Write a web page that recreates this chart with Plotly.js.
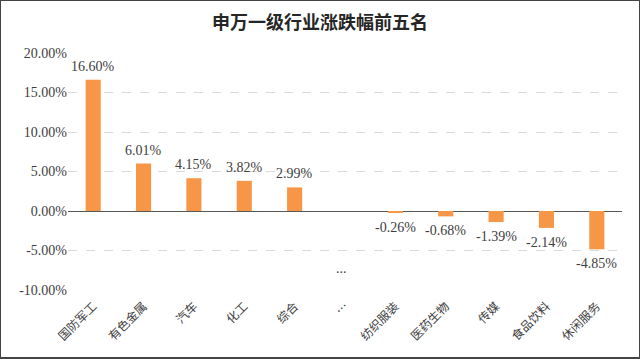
<!DOCTYPE html>
<html>
<head>
<meta charset="utf-8">
<script src="https://cdn.plot.ly/plotly-3.0.1.min.js"></script>
<style>
html,body{margin:0;padding:0;background:#fff;}
#frame{width:640px;height:359px;box-sizing:border-box;border:1px solid #444;border-bottom-width:2px;overflow:hidden;}
#chart{width:638px;height:356px;}
</style>
</head>
<body>
<div id="frame"><div id="chart"></div></div>
<script>
const categories = ["国防军工","有色金属","汽车","化工","综合","…","纺织服装","医药生物","传媒","食品饮料","休闲服务"];
const values = [16.60, 6.01, 4.15, 3.82, 2.99, null, -0.26, -0.68, -1.39, -2.14, -4.85];
const tickValues = [20, 15, 10, 5, 0, -5, -10];
const tickLabels = ["20.00%","15.00%","10.00%","5.00%","0.00%","-5.00%","-10.00%"];
const gapLabel = "...";
const gapLabelY = -7.3;

const cjkFont = "'Noto Sans CJK SC', sans-serif";
const numFont = "'Liberation Serif', 'DejaVu Serif', serif";

const traces = [{
  type: "bar",
  x: categories,
  y: values,
  marker: {color: "#F79646"},
  width: 0.3,
  hoverinfo: "none"
}];

const annotations = [];
categories.forEach((c, i) => {
  const v = values[i];
  if (v === null) return;
  annotations.push({
    x: c, y: v, xref: "x", yref: "y",
    text: v.toFixed(2) + "%", showarrow: false,
    yanchor: v >= 0 ? "bottom" : "top",
    yshift: v >= 0 ? 4 : -5,
    font: {family: numFont, size: 14, color: "#404040"}
  });
});
annotations.push({
  x: categories[5], y: gapLabelY, xref: "x", yref: "y",
  text: gapLabel, showarrow: false, xshift: -4,
  font: {family: numFont, size: 14, color: "#404040"}
});

const layout = {
  width: 638, height: 356,
  margin: {l: 67, r: 17, t: 52, b: 67},
  paper_bgcolor: "#fff", plot_bgcolor: "#fff",
  title: {text: "<b>申万一级行业涨跌幅前五名</b>", x: 0.5, xanchor: "center", y: 0.94, yanchor: "middle",
          font: {family: cjkFont, size: 18, color: "#262626"}},
  showlegend: false,
  xaxis: {
    type: "category",
    tickangle: -45,
    tickfont: {family: cjkFont, size: 12, color: "#404040"},
    ticklabelstandoff: 6,
    showgrid: false, zeroline: false, showline: false, ticks: ""
  },
  yaxis: {
    range: [-10, 20],
    tickvals: tickValues, ticktext: tickLabels,
    tickfont: {family: numFont, size: 14, color: "#404040"},
    showgrid: true, gridcolor: "#D9D9D9", griddash: "dash", gridwidth: 1,
    zeroline: true, zerolinecolor: "#595959", zerolinewidth: 1,
    showline: false, ticks: "", fixedrange: true
  },
  annotations: annotations
};

Plotly.newPlot("chart", traces, layout, {displayModeBar: false, staticPlot: true});
</script>
</body>
</html>
